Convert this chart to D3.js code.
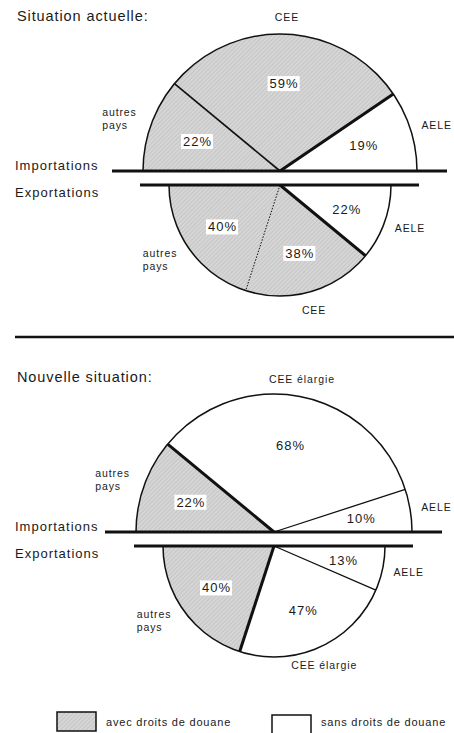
<!DOCTYPE html>
<html>
<head>
<meta charset="utf-8">
<title>Importations / Exportations</title>
<script src="https://d3js.org/d3.v7.min.js"></script>
<style>
  body { margin: 0; background: #fff; }
  svg { display: block; font-family: "Liberation Sans", Arial, sans-serif; }
  text { fill: #1a1a1a; }
</style>
</head>
<body>
<div id="chart"></div>
<script>
// --- data ---
var panelTitles = ["Situation actuelle:", "Nouvelle situation:"];
var partnersActuelle = ["autres pays", "CEE", "AELE"];
var partnersNouvelle = ["autres pays", "CEE élargie", "AELE"];
var importsActuelle = [22, 59, 19];
var exportsActuelle = [40, 38, 22];
var importsNouvelle = [22, 68, 10];
var exportsNouvelle = [40, 47, 13];
var dutyActuelle = [true, true, false];   // avec droits de douane ?
var dutyNouvelle = [true, false, false];
var legendLabels = ["avec droits de douane", "sans droits de douane"];
var flowLabels = ["Importations", "Exportations"];

var width = 454, height = 733;

var svg = d3.select("#chart").append("svg")
    .attr("width", width)
    .attr("height", height);

// grey hatched texture for "avec droits"
var defs = svg.append("defs");
var pat = defs.append("pattern")
    .attr("id", "hatch")
    .attr("patternUnits", "userSpaceOnUse")
    .attr("width", 3).attr("height", 3)
    .attr("patternTransform", "rotate(45)");
pat.append("rect").attr("width", 3).attr("height", 3).attr("fill", "#d6d6d6");
pat.append("line").attr("x1", 0).attr("y1", 0).attr("x2", 0).attr("y2", 3)
    .attr("stroke", "#b4b4b4").attr("stroke-width", 1);

var fillFor = function(d) { return d ? "url(#hatch)" : "#fff"; };

var panels = [
    { title: panelTitles[0], partners: partnersActuelle, imp: importsActuelle, exp: exportsActuelle,
      duty: dutyActuelle, cx: 280, impY: 171, expY: 185, rImp: 137, rExp: 111 },
    { title: panelTitles[1], partners: partnersNouvelle, imp: importsNouvelle, exp: exportsNouvelle,
      duty: dutyNouvelle, cx: 274, impY: 532, expY: 546, rImp: 138, rExp: 111 }
];

var drawHalf = function(g, values, duty, partners, cx, cy, r, isImport) {
    // imports: upper half from the left; exports: lower half from the left
    var pie = d3.pie().sort(null).value(function(d) { return d; })
        .startAngle(isImport ? -Math.PI / 2 : 3 * Math.PI / 2)
        .endAngle(Math.PI / 2);
    var arcs = pie(values);
    var arc = d3.arc().innerRadius(0).outerRadius(r);
    var half = g.append("g").attr("transform", "translate(" + cx + "," + cy + ")");

    half.selectAll(".slice")
        .data(arcs)
        .enter()
        .append("path")
        .classed("slice", true)
        .attr("d", arc)
        .attr("fill", function(d, i) { return fillFor(duty[i]); })
        .attr("stroke", "none");

    // outer rim
    var rim = d3.arc().innerRadius(r).outerRadius(r)
        .startAngle(arcs[0].startAngle).endAngle(arcs[arcs.length - 1].endAngle);
    half.append("path").attr("d", rim).attr("fill", "none")
        .attr("stroke", "#111").attr("stroke-width", 1.5);

    // separators between slices
    arcs.forEach(function(d, i) {
        if (i === 0) return;
        var a = d.startAngle;
        var line = half.append("line")
            .attr("x1", 0).attr("y1", 0)
            .attr("x2", Math.sin(a) * r).attr("y2", -Math.cos(a) * r)
            .attr("stroke", "#111");
        if (duty[i] !== duty[i - 1]) {
            line.attr("stroke-width", 3);
        } else if (duty[i] && !isImport) {
            line.attr("stroke-width", 1).attr("stroke-dasharray", "1.6,1.4");
        } else if (duty[i]) {
            line.attr("stroke-width", 1.7);
        } else {
            line.attr("stroke-width", 1.3);
        }
    });

    // percentages
    var labArc = d3.arc().innerRadius(r * 0.64).outerRadius(r * 0.64);
    var pct = half.selectAll(".pct")
        .data(arcs)
        .enter()
        .append("g")
        .classed("pct", true)
        .attr("transform", function(d) { return "translate(" + labArc.centroid(d) + ")"; });
    pct.each(function(d, i) {
        var p = d3.select(this);
        var t = p.append("text")
            .attr("text-anchor", "middle")
            .attr("dy", "0.36em")
            .attr("font-size", 13)
            .attr("letter-spacing", 1)
            .text(d.value + "%");
        if (duty[i]) {
            var b = t.node().getBBox();
            p.insert("rect", "text")
                .attr("x", b.x - 2).attr("y", b.y)
                .attr("width", b.width + 3).attr("height", b.height)
                .attr("fill", "#fff");
        }
    });

    // partner names outside the rim
    arcs.forEach(function(d, i) {
        var a = (d.startAngle + d.endAngle) / 2;
        var s = Math.sin(a), c = -Math.cos(a);
        var rr = r + 11;
        var anchor = s > 0.5 ? "start" : (s < -0.5 ? "end" : "middle");
        var x = s * rr;
        var y = c * rr + c * (anchor === "middle" && c > 0 ? 9 : 6);
        if (anchor === "end") x -= 4;
        var words = partners[i] === "autres pays" ? ["autres", "pays"] : [partners[i]];
        var t = half.append("text")
            .attr("font-size", 10.5)
            .attr("letter-spacing", 0.9)
            .attr("text-anchor", anchor === "end" ? "start" : anchor);
        words.forEach(function(w, k) {
            t.append("tspan")
                .attr("x", x)
                .attr("y", y + (k - (words.length - 1) / 2) * 13)
                .attr("dy", "0.35em")
                .text(w);
        });
        if (anchor === "end") {
            var w = t.node().getBBox().width;
            t.selectAll("tspan").attr("x", x - w);
        }
    });
};

panels.forEach(function(p) {
    var g = svg.append("g");

    g.append("text")
        .attr("x", 17).attr("y", p.impY - 150)
        .attr("font-size", 14.5)
        .attr("letter-spacing", 0.9)
        .text(p.title);

    drawHalf(g, p.imp, p.duty, p.partners, p.cx, p.impY, p.rImp, true);
    drawHalf(g, p.exp, p.duty, p.partners, p.cx, p.expY, p.rExp, false);

    // base lines
    g.append("line")
        .attr("x1", p.cx - p.rImp - 31).attr("x2", p.cx + p.rImp + 30)
        .attr("y1", p.impY).attr("y2", p.impY)
        .attr("stroke", "#111").attr("stroke-width", 3);
    g.append("line")
        .attr("x1", p.cx - p.rExp - 29).attr("x2", p.cx + p.rExp + 28)
        .attr("y1", p.expY).attr("y2", p.expY)
        .attr("stroke", "#111").attr("stroke-width", 3);

    g.append("text")
        .attr("x", 15).attr("y", p.impY - 1)
        .attr("font-size", 13).attr("letter-spacing", 1)
        .text(flowLabels[0]);
    g.append("text")
        .attr("x", 15).attr("y", p.expY + 12)
        .attr("font-size", 13).attr("letter-spacing", 1)
        .text(flowLabels[1]);
});

// divider between the two situations
svg.append("line")
    .attr("x1", 15).attr("x2", width)
    .attr("y1", 337).attr("y2", 337)
    .attr("stroke", "#111").attr("stroke-width", 2.5);

// legend
var legend = svg.append("g").attr("transform", "translate(0,722)");
var legendX = [57, 272];
legendLabels.forEach(function(lbl, i) {
    legend.append("rect")
        .attr("x", legendX[i]).attr("y", i === 0 ? -10 : -7)
        .attr("width", 39).attr("height", 19)
        .attr("fill", fillFor(i === 0))
        .attr("stroke", "#111").attr("stroke-width", 1.5);
    legend.append("text")
        .attr("x", legendX[i] + 49).attr("y", 0)
        .attr("dy", "0.35em")
        .attr("font-size", 11).attr("letter-spacing", 0.8)
        .text(lbl);
});
</script>
</body>
</html>
